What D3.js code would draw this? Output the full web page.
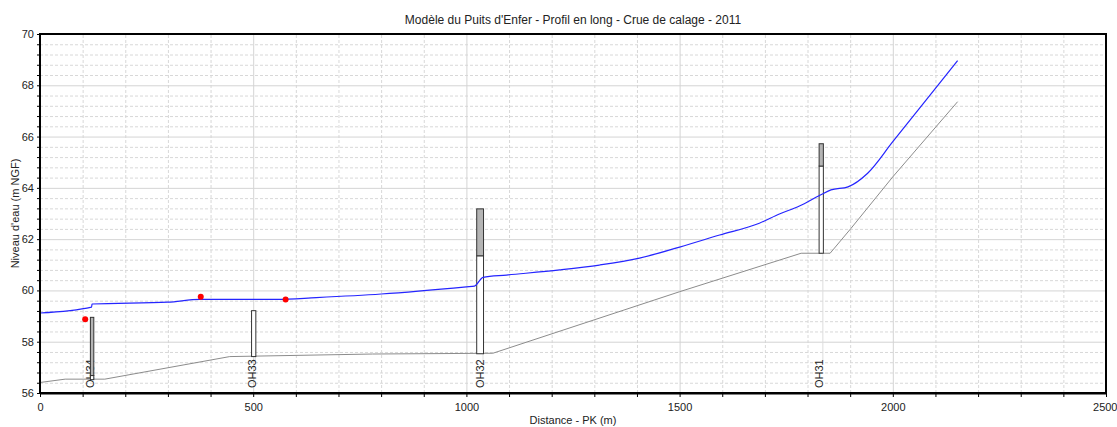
<!DOCTYPE html>
<html>
<head>
<meta charset="utf-8">
<script src="https://cdn.jsdelivr.net/npm/d3@7"></script>
<style>
  body { margin: 0; background: #fff; }
  svg { font-family: "Liberation Sans", Arial, sans-serif; }
  .grid line { stroke: #d4d4d4; }
  .grid .domain { display: none; }
  .minor line { stroke: #d8d8d8; stroke-dasharray: 3,2; }
  .axis text { font-size: 11px; fill: #222; }
  .axis line { stroke: #000; }
  .axis .domain { display: none; }
</style>
</head>
<body>
<div id="chart"></div>
<script>
// ligne d'eau (PK en m, cote en m NGF)
var pkEau = [0, 121, 122, 300, 375, 555, 648, 800, 1000, 1019, 1039, 1094, 1219, 1312, 1406, 1500, 1594, 1687, 1734, 1781, 1828, 1855, 1895, 1941, 2000, 2100, 2152];
var zEau  = [59.12, 59.35, 59.47, 59.54, 59.65, 59.65, 59.72, 59.86, 60.14, 60.17, 60.51, 60.60, 60.80, 60.99, 61.26, 61.69, 62.16, 62.62, 62.98, 63.29, 63.70, 63.92, 64.04, 64.57, 65.80, 67.88, 68.96];

// fond du lit
var pkFond = [0, 59, 152, 445, 780, 1062, 1500, 1785, 1853, 1902, 2000, 2152];
var zFond  = [56.41, 56.54, 56.54, 57.42, 57.52, 57.55, 59.95, 61.45, 61.45, 62.42, 64.43, 67.36];

// laisses de crue observees
var pkObs = [106, 377, 576];
var zObs  = [58.88, 59.75, 59.65];

// ouvrages
var ouvNoms  = ["OH34", "OH33", "OH32", "OH31"];
var ouvDebut = [117, 495, 1023, 1826];
var ouvFin   = [125, 505, 1039, 1836];
var ouvHaut  = [58.97, 59.23, 63.20, 65.74];
var ouvTab   = [56.70, 59.23, 61.37, 64.87];
var ouvBas   = [56.54, 57.44, 57.55, 61.47];

var xMajor = [0, 500, 1000, 1500, 2000, 2500];
var yMajor = [56, 58, 60, 62, 64, 66, 68, 70];

var margin = {top: 34, right: 11, bottom: 34, left: 40};
var W = 1117, H = 427;
var width = W - margin.left - margin.right;
var height = H - margin.top - margin.bottom;

var svg = d3.select("#chart").append("svg")
    .attr("width", W)
    .attr("height", H);

var g = svg.append("g").attr("transform", "translate(" + margin.left + "," + margin.top + ")");

var x = d3.scaleLinear().domain([0, 2500]).range([0, width]);
var y = d3.scaleLinear().domain([56, 70]).range([height, 0]);

var xMinor = d3.range(0, 2501, 100);
var yMinor = d3.range(0, 36).map(function(i) { return +(56 + i * 0.4).toFixed(1); });
function isMajorY(v) { return Math.abs(v / 2 - Math.round(v / 2)) < 0.01; }

// grilles
g.append("g").attr("class", "grid minor")
    .attr("transform", "translate(0," + height + ")")
    .call(d3.axisBottom(x).tickValues(xMinor.filter(function(v) { return v % 500; })).tickSize(-height).tickFormat(""));
g.append("g").attr("class", "grid minor")
    .call(d3.axisLeft(y).tickValues(yMinor.filter(function(v) { return !isMajorY(v); })).tickSize(-width).tickFormat(""));
g.append("g").attr("class", "grid")
    .attr("transform", "translate(0," + height + ")")
    .call(d3.axisBottom(x).tickValues(xMajor).tickSize(-height).tickFormat(""));
g.append("g").attr("class", "grid")
    .call(d3.axisLeft(y).tickValues(yMajor).tickSize(-width).tickFormat(""));

// fond
var line = d3.line()
    .x(function(d) { return x(d[0]); })
    .y(function(d) { return y(d[1]); });

g.append("path")
    .datum(d3.zip(pkFond, zFond))
    .attr("fill", "none")
    .attr("stroke", "#8c8c8c")
    .attr("stroke-width", 1)
    .attr("d", line);

// ouvrages
var ouv = g.selectAll(".ouv")
    .data(ouvNoms.map(function(n, i) { return i; }))
  .enter().append("g")
    .attr("class", "ouv");

ouv.append("line")
    .attr("x1", function(i) { return x(ouvFin[i]); })
    .attr("x2", function(i) { return x(ouvFin[i]); })
    .attr("y1", function(i) { return y(ouvBas[i]); })
    .attr("y2", 327)
    .attr("stroke", "#dddddd");

ouv.append("text")
    .attr("transform", function(i) { return "translate(" + (x(ouvFin[i]) + 0.5) + ",354) rotate(-90)"; })
    .attr("font-size", "11px")
    .attr("fill", "#222")
    .text(function(i) { return ouvNoms[i]; });

ouv.append("rect")
    .attr("x", function(i) { return x(ouvDebut[i]) + 0.5; })
    .attr("width", function(i) { return x(ouvFin[i]) - x(ouvDebut[i]); })
    .attr("y", function(i) { return y(ouvTab[i]) + 0.5; })
    .attr("height", function(i) { return y(ouvBas[i]) - y(ouvTab[i]); })
    .attr("fill", "#fff")
    .attr("stroke", "#333")
    .attr("stroke-width", 1);

ouv.append("rect")
    .attr("x", function(i) { return x(ouvDebut[i]) + 0.5; })
    .attr("width", function(i) { return x(ouvFin[i]) - x(ouvDebut[i]); })
    .attr("y", function(i) { return y(ouvHaut[i]) + 0.5; })
    .attr("height", function(i) { return y(ouvTab[i]) - y(ouvHaut[i]); })
    .attr("fill", "#b4b4b4")
    .attr("stroke", "#333")
    .attr("stroke-width", 1);

// ligne d'eau
g.append("path")
    .datum(d3.zip(pkEau, zEau))
    .attr("fill", "none")
    .attr("stroke", "#2525ff")
    .attr("stroke-width", 1.2)
    .attr("d", line.curve(d3.curveMonotoneX));

// points observes
g.selectAll(".obs")
    .data(d3.zip(pkObs, zObs))
  .enter().append("circle")
    .attr("cx", function(d) { return x(d[0]); })
    .attr("cy", function(d) { return y(d[1]); })
    .attr("r", 3)
    .attr("fill", "#ff0000");

// cadre
g.append("rect")
    .attr("width", width)
    .attr("height", height)
    .attr("fill", "none")
    .attr("stroke", "#000")
    .attr("stroke-width", 2);
g.append("line")
    .attr("x1", 0).attr("x2", width)
    .attr("y1", height + 0.5).attr("y2", height + 0.5)
    .attr("stroke", "#000")
    .attr("stroke-width", 2);

// axes
var xAxis = g.append("g").attr("class", "axis")
    .attr("transform", "translate(0," + height + ")")
    .call(d3.axisBottom(x).tickValues(xMinor).tickSize(4).tickFormat(function(d) { return d % 500 ? "" : d; }));
xAxis.selectAll("text").attr("dy", "1.0em");
xAxis.selectAll("text").filter(function(d) { return d === 2500; })
    .attr("text-anchor", "end")
    .attr("x", 11);

g.append("g").attr("class", "axis")
    .call(d3.axisLeft(y).tickValues(yMinor).tickSize(3).tickPadding(3)
      .tickFormat(function(d) { return isMajorY(d) ? d : ""; }));

// titres
svg.append("text")
    .attr("x", margin.left + width / 2)
    .attr("y", 24)
    .attr("text-anchor", "middle")
    .attr("font-size", "12px")
    .attr("fill", "#222")
    .text("Modèle du Puits d'Enfer - Profil en long - Crue de calage - 2011");

svg.append("text")
    .attr("x", margin.left + width / 2)
    .attr("y", 424)
    .attr("text-anchor", "middle")
    .attr("font-size", "11px")
    .attr("fill", "#222")
    .text("Distance - PK (m)");

svg.append("text")
    .attr("transform", "translate(19," + (margin.top + height / 2) + ") rotate(-90)")
    .attr("text-anchor", "middle")
    .attr("font-size", "11px")
    .attr("fill", "#222")
    .text("Niveau d'eau (m NGF)");
</script>
</body>
</html>
